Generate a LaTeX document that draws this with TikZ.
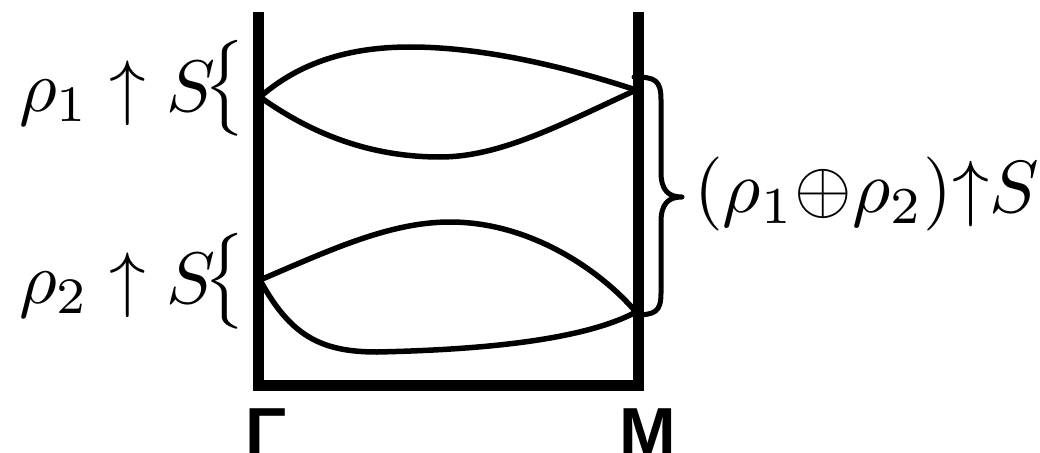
\documentclass[tikz,border=0pt]{standalone}
\usepackage{fontspec}
\newfontfamily\labfont{Liberation Sans}
\begin{document}
\begin{tikzpicture}[x=1pt,y=-1pt,
  band/.style={line width=5.5pt,line cap=round},
  bracestroke/.style={line width=5pt,line cap=round,line join=round},
  frame/.style={line width=11pt},
  mathlab/.style={inner sep=0pt,anchor=base west},
  kpoint/.style={inner sep=0pt,anchor=base,font=\labfont\bfseries\fontsize{68}{68}\selectfont}]
\useasboundingbox (0,0) rectangle (1040,452);
% frame
\coordinate (TL) at (258.5,12);
\coordinate (BL) at (258.5,385.5);
\coordinate (BR) at (638,385.5);
\coordinate (TR) at (638,12);
\draw[frame] (TL) -- (BL) -- (BR) -- (TR);
% band points
\coordinate (A1) at (260,97);
\coordinate (B1) at (636,90);
\coordinate (A2) at (260,280);
\coordinate (B2) at (636,312);
\coordinate (P1) at (410,47);
\coordinate (Q1) at (440,157);
\coordinate (P2) at (450,222);
\coordinate (Q2) at (377,352);
\draw[band] (A1) .. controls (300,62) and (350,47) .. (P1) .. controls (480,47) and (560,65) .. (B1);
\draw[band] (A1) .. controls (320,140) and (380,157) .. (Q1) .. controls (500,157) and (560,125) .. (B1);
\draw[band] (A2) .. controls (330,250) and (390,222) .. (P2) .. controls (530,222) and (600,270) .. (B2);
\draw[band] (A2) .. controls (290,335) and (320,352) .. (Q2) .. controls (470,350) and (580,342) .. (B2);
% left labels
\node[mathlab] (L1) at (19,111) {\scalebox{7.3}{$\rho_1\uparrow S$}};
\node[inner sep=0pt] (LB1) at (225,88.5) {\scalebox{7.3}[8.0]{$\big\{$}};
\node[mathlab] (L2) at (19,303) {\scalebox{7.3}{$\rho_2\uparrow S$}};
\node[inner sep=0pt] (LB2) at (225,281.5) {\scalebox{7.3}[8.0]{$\big\{$}};
% right brace
\coordinate (RB1) at (634,77);
\coordinate (RBT) at (682,197);
\coordinate (RB2) at (634,315);
\draw[bracestroke] (RB1) .. controls (655,77) and (661,80) .. (661,100)
  -- (661,172) .. controls (661,190) and (668,197) .. (RBT)
  .. controls (668,197) and (661,204) .. (661,222)
  -- (661,293) .. controls (661,312) and (655,315) .. (RB2);
\node[mathlab] (R) at (694,212) {\scalebox{7.4}{$(\rho_1{\oplus}\rho_2){\uparrow}S$}};
% k-points
\node[kpoint] (G) at (266,455) {Γ};
\node[kpoint] (M) at (648,455) {M};
\end{tikzpicture}
\end{document}
